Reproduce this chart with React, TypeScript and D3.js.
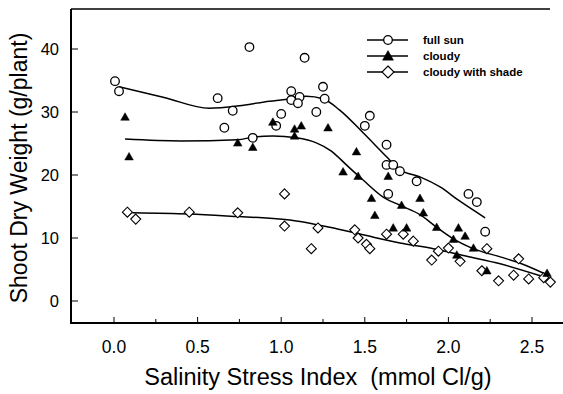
import React from "react";
import * as d3 from "d3";

const xTicks = [0, 0.5, 1.0, 1.5, 2.0, 2.5];
const xMinorTicks = [0.25, 0.75, 1.25, 1.75, 2.25];
const yTicks = [0, 10, 20, 30, 40];

const seriesNames = ["full sun", "cloudy", "cloudy with shade"];

const fullSunX = [0.006, 0.03, 0.62, 0.71, 0.66, 0.81, 1.14, 1.0, 0.97, 1.06, 1.06, 1.11, 1.1, 1.25, 1.26, 1.21, 1.53, 1.5, 1.63, 1.63, 1.67, 1.71, 1.81, 1.64, 2.12, 2.17, 2.22, 0.83];
const fullSunY = [34.9, 33.3, 32.2, 30.2, 27.5, 40.3, 38.6, 29.7, 27.8, 33.3, 31.9, 32.4, 31.4, 34.0, 32.1, 30.0, 29.4, 27.8, 24.8, 21.6, 21.6, 20.6, 19.0, 17.0, 17.0, 15.7, 11.0, 25.9];

const cloudyX = [0.066, 0.09, 0.74, 0.83, 0.95, 1.08, 1.12, 1.08, 1.28, 1.45, 1.37, 1.46, 1.64, 1.54, 1.56, 1.72, 1.67, 1.75, 1.83, 1.85, 2.06, 2.1, 1.93, 2.03, 2.15, 2.05, 2.23, 2.59];
const cloudyY = [29.2, 22.9, 25.1, 24.4, 28.4, 27.3, 27.8, 26.2, 27.5, 23.7, 20.5, 19.8, 19.8, 16.3, 13.6, 15.2, 11.6, 11.6, 16.3, 14.0, 11.6, 10.3, 11.7, 9.8, 8.4, 7.3, 4.8, 4.4];

const shadeX = [0.08, 0.13, 0.45, 0.74, 1.02, 1.02, 1.18, 1.22, 1.44, 1.46, 1.51, 1.53, 1.63, 1.73, 1.79, 1.9, 1.94, 2.0, 2.07, 2.2, 2.23, 2.3, 2.39, 2.42, 2.48, 2.57, 2.61];
const shadeY = [14.1, 13.0, 14.1, 14.0, 17.0, 11.9, 8.3, 11.6, 11.3, 10.0, 9.0, 8.3, 10.6, 10.6, 9.5, 6.5, 7.9, 8.4, 6.3, 4.8, 8.3, 3.2, 4.1, 6.7, 3.5, 3.7, 3.0];

const fullSunFitX = [0.03, 0.3, 0.57, 0.75, 0.9, 1.06, 1.15, 1.25, 1.35, 1.49, 1.63, 1.71, 1.83, 1.95, 2.06, 2.22];
const fullSunFitY = [34.0, 32.3, 30.6, 31.0, 31.6, 32.1, 32.5, 32.1, 30.3, 26.7, 22.9, 20.8, 19.7, 18.1, 16.0, 13.2];

const cloudyFitX = [0.066, 0.4, 0.74, 0.83, 0.95, 1.09, 1.21, 1.3, 1.39, 1.49, 1.61, 1.71, 1.83, 1.93, 2.04, 2.14, 2.31, 2.43, 2.57];
const cloudyFitY = [25.7, 25.4, 25.6, 26.0, 26.2, 25.9, 25.1, 23.8, 21.6, 19.2, 16.5, 15.2, 13.7, 11.7, 9.7, 8.4, 7.0, 6.0, 4.4];

const shadeFitX = [0.11, 0.45, 0.75, 0.89, 1.09, 1.29, 1.49, 1.71, 1.91, 2.11, 2.31, 2.55];
const shadeFitY = [14.0, 13.8, 13.4, 13.2, 12.7, 11.7, 10.5, 9.2, 8.3, 7.1, 5.9, 4.0];

const W = 563;
const H = 394;
const frameLeft = 71;
const frameTop = 9;
const frameBottom = 323;
const frameRight = 550;

const x = d3.scaleLinear().domain([0, 2.5]).range([114, 532]);
const y = d3.scaleLinear().domain([0, 40]).range([301, 49]);

const font = "Arial, 'Liberation Sans', Helvetica, sans-serif";

function fitPath(xs: number[], ys: number[]) {
  const line = d3
    .line<number>()
    .x((_, i) => x(xs[i]))
    .y((_, i) => y(ys[i]))
    .curve(d3.curveMonotoneX);
  return line(xs.map((_, i) => i)) || "";
}

function Circle({ cx, cy }: { cx: number; cy: number }) {
  return <circle cx={cx} cy={cy} r={4.3} fill="white" stroke="black" strokeWidth={1.3} />;
}
function Tri({ cx, cy, s = 4.3 }: { cx: number; cy: number; s?: number }) {
  const p = `M${cx},${cy - s}L${cx + s},${cy + s * 0.75}L${cx - s},${cy + s * 0.75}Z`;
  return <path d={p} fill="black" stroke="black" strokeWidth={0.5} />;
}
function Diamond({ cx, cy, s = 5 }: { cx: number; cy: number; s?: number }) {
  const p = `M${cx},${cy - s}L${cx + s},${cy}L${cx},${cy + s}L${cx - s},${cy}Z`;
  return <path d={p} fill="white" stroke="black" strokeWidth={1.1} />;
}

export default function App() {
  const legendY = [40, 56, 72];
  return (
    <svg
      width={W}
      height={H}
      style={{ position: "absolute", left: 0, top: 0, background: "white" }}
    >
      <rect x={0} y={0} width={W} height={H} fill="white" />
      {/* frame */}
      <line x1={frameLeft} y1={frameTop} x2={frameLeft} y2={frameBottom} stroke="black" strokeWidth={2} />
      <line x1={frameLeft} y1={frameTop} x2={frameRight} y2={frameTop} stroke="black" strokeWidth={1.5} />
      <line x1={frameLeft - 1} y1={frameBottom} x2={W} y2={frameBottom} stroke="black" strokeWidth={2} />

      {/* x ticks */}
      {xTicks.map((t) => (
        <g key={"xt" + t}>
          <line x1={x(t)} x2={x(t)} y1={frameBottom} y2={frameBottom - 6} stroke="black" strokeWidth={1} />
          <text x={x(t)} y={353} textAnchor="middle" fontFamily={font} fontSize={17.5}>
            {t.toFixed(1)}
          </text>
        </g>
      ))}
      {xMinorTicks.map((t) => (
        <line key={"xm" + t} x1={x(t)} x2={x(t)} y1={frameBottom} y2={frameBottom - 4} stroke="black" strokeWidth={1} />
      ))}

      {/* y ticks */}
      {yTicks.map((t) => (
        <g key={"yt" + t}>
          <line x1={frameLeft} x2={frameLeft + 7} y1={y(t)} y2={y(t)} stroke="black" strokeWidth={1} />
          <text x={59} y={y(t) + 6} textAnchor="end" fontFamily={font} fontSize={16.5}>
            {t}
          </text>
        </g>
      ))}

      {/* axis titles */}
      <text
        x={318}
        y={385}
        textAnchor="middle"
        fontFamily={font}
        fontSize={23.5}
        style={{ whiteSpace: "pre" }}
        xmlSpace="preserve"
      >
        {"Salinity Stress Index  (mmol Cl/g)"}
      </text>
      <text
        transform={`translate(27,168) rotate(-90)`}
        textAnchor="middle"
        fontFamily={font}
        fontSize={23}
      >
        Shoot Dry Weight (g/plant)
      </text>

      {/* fit lines */}
      <path d={fitPath(fullSunFitX, fullSunFitY)} fill="none" stroke="black" strokeWidth={1.5} />
      <path d={fitPath(cloudyFitX, cloudyFitY)} fill="none" stroke="black" strokeWidth={1.5} />
      <path d={fitPath(shadeFitX, shadeFitY)} fill="none" stroke="black" strokeWidth={1.5} />

      {/* points */}
      {shadeX.map((v, i) => (
        <Diamond key={"d" + i} cx={x(v)} cy={y(shadeY[i])} />
      ))}
      {fullSunX.map((v, i) => (
        <Circle key={"c" + i} cx={x(v)} cy={y(fullSunY[i])} />
      ))}
      {cloudyX.map((v, i) => (
        <Tri key={"t" + i} cx={x(v)} cy={y(cloudyY[i])} />
      ))}

      {/* legend */}
      {seriesNames.map((name, i) => (
        <g key={"lg" + i}>
          <line x1={367} x2={408} y1={legendY[i]} y2={legendY[i]} stroke="black" strokeWidth={1.5} />
          {i === 0 && <Circle cx={388} cy={legendY[i]} />}
          {i === 1 && <Tri cx={388} cy={legendY[i]} s={5.5} />}
          {i === 2 && <Diamond cx={388} cy={legendY[i]} s={6} />}
          <text x={423} y={legendY[i] + 4} fontFamily={font} fontSize={11.5} fontWeight="bold">
            {name}
          </text>
        </g>
      ))}
    </svg>
  );
}
